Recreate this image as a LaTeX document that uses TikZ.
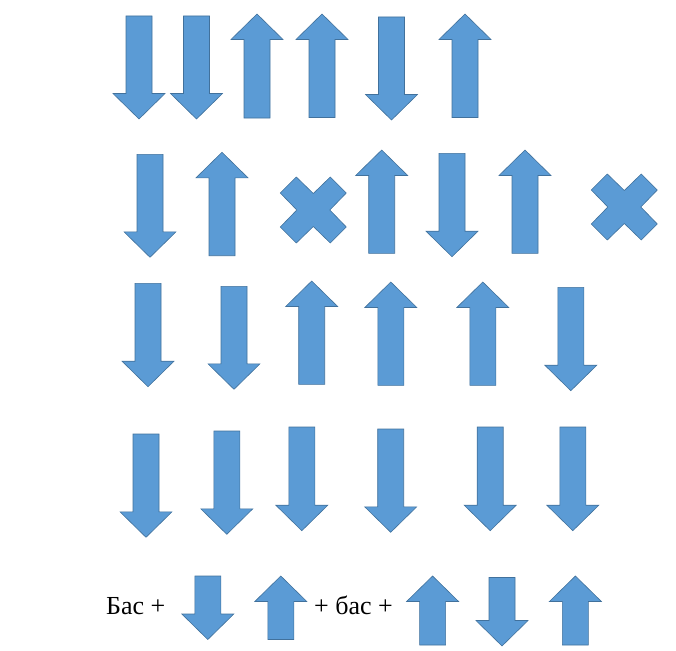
\documentclass[tikz,border=0pt]{standalone}
\usepackage{fontspec}
\setmainfont{Liberation Serif}
\usepackage{tikz}

\definecolor{piecefill}{HTML}{5B9BD5}
\definecolor{pieceline}{HTML}{41719C}

\begin{document}
\begin{tikzpicture}[x={(1pt,0pt)},y={(0pt,-1pt)}]
\def\shafthalf{13}
\def\headhalf{26}
\def\headlen{25.5}
\tikzset{piece/.style={fill=piecefill, draw=pieceline, line width=0.6pt, line join=miter},
  label/.style={anchor=base west, inner sep=0pt, font=\fontsize{26}{31}\selectfont}}
% down arrow: centre x, top y, tip y
\def\dnarrow(#1,#2,#3){\draw[piece] (#1-\shafthalf,#2) -- (#1+\shafthalf,#2) -- (#1+\shafthalf,#3-\headlen) -- (#1+\headhalf,#3-\headlen) -- (#1,#3) -- (#1-\headhalf,#3-\headlen) -- (#1-\shafthalf,#3-\headlen) -- cycle;}
% up arrow: centre x, tip y, bottom y
\def\uparrow(#1,#2,#3){\draw[piece] (#1,#2) -- (#1+\headhalf,#2+\headlen) -- (#1+\shafthalf,#2+\headlen) -- (#1+\shafthalf,#3) -- (#1-\shafthalf,#3) -- (#1-\shafthalf,#2+\headlen) -- (#1-\headhalf,#2+\headlen) -- cycle;}
% cross: centre x, centre y
\def\crossmark(#1,#2){\draw[piece] (#1-33,#2-17) -- (#1-17,#2-33) -- (#1,#2-16.5) -- (#1+17,#2-33) -- (#1+33,#2-17) -- (#1+16.5,#2) -- (#1+33,#2+17) -- (#1+17,#2+33) -- (#1,#2+16.5) -- (#1-17,#2+33) -- (#1-33,#2+17) -- (#1-16.5,#2) -- cycle;}

\useasboundingbox (0,0) rectangle (676,650);

% FIRST ROW
\dnarrow(139,16,119)
\dnarrow(196.5,16,119)
\uparrow(257,14,118)
\uparrow(322,14,117.5)
\dnarrow(391.5,17,120)
\uparrow(465,14,117.5)

% SECOND ROW
\dnarrow(150,154.3,257.3)
\uparrow(222,152.3,255.7)
\crossmark(313.3,210)
\uparrow(381.7,150,253.3)
\dnarrow(452,153.3,256.7)
\uparrow(525,150,253.3)
\crossmark(624.3,207)

% THIRD ROW
\dnarrow(148,283.3,386.7)
\dnarrow(234,286.3,389.3)
\uparrow(311.7,281,384.3)
\uparrow(390.8,282,385.3)
\uparrow(482.8,282,385.3)
\dnarrow(570.8,287.3,390.7)

% FOURTH ROW
\dnarrow(146,434,537.3)
\dnarrow(226.8,431,534.3)
\dnarrow(301.8,427,530.7)
\dnarrow(390.7,429,532.3)
\dnarrow(490.2,427,530.7)
\dnarrow(572.8,427,530.7)

% FIFTH ROW
\node[label] (bas1) at (106,614.3) {Бас +};
\dnarrow(207.8,576,639.5)
\uparrow(280.8,576,639.5)
\node[label] (bas2) at (314,614.3) {+ бас +};
\uparrow(432.6,576,645)
\dnarrow(502,577.5,646)
\uparrow(575.4,576,645)
\end{tikzpicture}
\end{document}
